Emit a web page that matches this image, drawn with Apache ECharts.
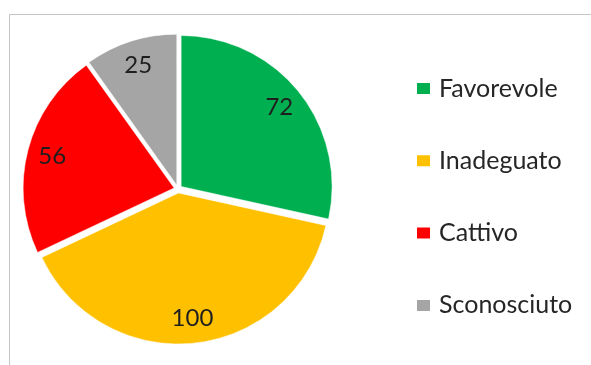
<!DOCTYPE html>
<html><head><meta charset="utf-8">
<script src="https://cdn.jsdelivr.net/npm/echarts@6/dist/echarts.min.js"></script>
<style>html,body{margin:0;padding:0;background:#fff}#c{width:591px;height:365px}</style>
</head><body><div id="c"></div>
<script>
const categories = ['Favorevole', 'Inadeguato', 'Cattivo', 'Sconosciuto'];
const values = [72, 100, 56, 25];
const colors = ['#00B050', '#FFC000', '#FF0000', '#A5A5A5'];

const chart = echarts.init(document.getElementById('c'));
const font = 'Lato, "Open Sans", sans-serif';
const sliceData = categories.map((n, i) => ({ name: n, value: values[i], selected: true, itemStyle: { color: colors[i] } }));
const labelData = categories.map((n, i) => ({ name: n + ' ', value: values[i], selected: true }));
const common = {
  type: 'pie', center: [178, 189], startAngle: 90, clockwise: true,
  selectedMode: 'multiple', selectedOffset: 4, silent: true, legendHoverLink: false,
  emphasis: { disabled: true }, labelLine: { show: false }
};
chart.setOption({
  animation: false,
  graphic: [
    { type: 'line', shape: { x1: 9.5, y1: 14.5, x2: 591, y2: 14.5 }, style: { stroke: '#c4c4c4', lineWidth: 1 } },
    { type: 'line', shape: { x1: 9.5, y1: 14.5, x2: 9.5, y2: 365 }, style: { stroke: '#c4c4c4', lineWidth: 1 } }
  ],
  legend: {
    orient: 'vertical', left: 410, top: 71, itemGap: 47.3,
    itemWidth: 15, itemHeight: 13, icon: 'rect', selectedMode: false,
    textStyle: { fontFamily: font, fontSize: 25, color: '#262626', padding: [0, 0, 0, 3] },
    data: categories
  },
  series: [
    Object.assign({}, common, {
      radius: [0, 151],
      itemStyle: { borderColor: '#fff', borderWidth: 0.5 },
      select: { itemStyle: { borderColor: '#fff', borderWidth: 0.5 } },
      label: { show: false },
      data: sliceData
    }),
    Object.assign({}, common, {
      radius: [94, 152],
      itemStyle: { color: 'rgba(0,0,0,0)', borderWidth: 0 },
      select: { itemStyle: { color: 'rgba(0,0,0,0)', borderWidth: 0 } },
      label: { show: true, position: 'inside', formatter: '{c}', fontFamily: font, fontSize: 24, color: '#1e1e1e' },
      data: labelData
    })
  ]
});
</script></body></html>
